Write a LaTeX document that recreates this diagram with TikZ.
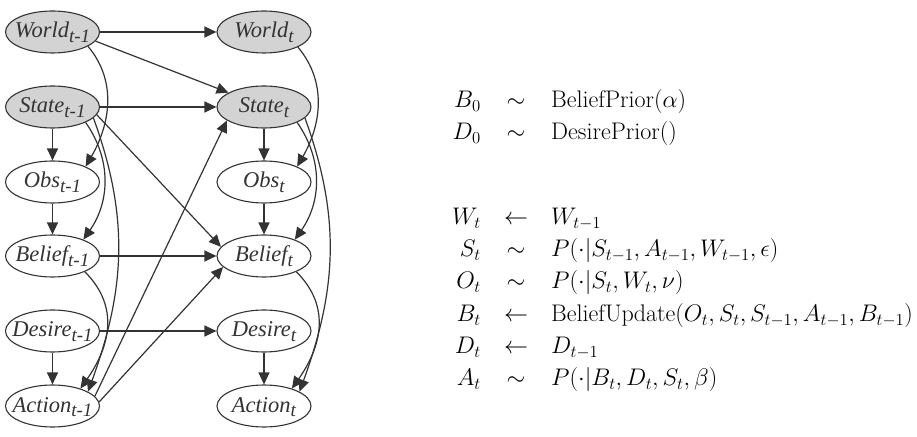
\RequirePackage{fix-cm}
\documentclass[tikz,border=0pt]{standalone}
\usepackage{fontspec}
\newfontfamily\nodefont{Liberation Serif}[ItalicFont={Liberation Serif Italic}]
\usetikzlibrary{shapes.geometric,arrows.meta}
\definecolor{edgec}{HTML}{333333}
\definecolor{nodegray}{HTML}{D3D3D3}
\newcommand\sbs[1]{\raisebox{-4.5pt}{\fontsize{19}{19}\selectfont #1}}
\newcommand\lab[1]{\makebox[0pt][c]{#1}}
\tikzset{
  bn/.style={ellipse, draw=edgec, text=edgec, line width=1.1pt, fill=white, minimum width=94pt, minimum height=42pt,
    inner sep=0pt, text height=12pt, text depth=0pt, font=\nodefont\itshape\fontsize{22.5}{22.5}\selectfont},
  gn/.style={bn, fill=nodegray},
  arr/.style={draw=edgec, line width=1.2pt, -{Triangle[length=12pt,width=11pt]}},
  eq/.style={inner sep=0pt, font=\fontsize{24}{28}\selectfont},
}
\newcommand\eqline[5]{%
  \node[eq, anchor=base east] (#1l) at (481,#2) {$#3$};
  \node[eq, anchor=base] (#1m) at (516,#2) {$#4$};
  \node[eq, anchor=base west] (#1r) at (551,#2) {$#5$};}
\begin{document}
\begin{tikzpicture}[x=1pt,y=1pt]
\path[use as bounding box] (0,0) rectangle (917,436);
% left column
\node[gn] (w1) at (52.5,404) {\lab{World\sbs{t-1}}};
\node[gn] (s1) at (52.5,329) {\lab{State\sbs{t-1}}};
\node[bn] (o1) at (52.5,254) {\lab{Obs\sbs{t-1}}};
\node[bn] (b1) at (52.5,180) {\lab{Belief\sbs{t-1}}};
\node[bn] (d1) at (52.5,105) {\lab{Desire\sbs{t-1}}};
\node[bn] (a1) at (52.5,30) {\lab{Action\sbs{t-1}}};
% right column
\node[gn] (w2) at (264,404) {\lab{World\sbs{t}}};
\node[gn] (s2) at (264,329) {\lab{State\sbs{t}}};
\node[bn] (o2) at (264,254) {\lab{Obs\sbs{t}}};
\node[bn] (b2) at (264,180) {\lab{Belief\sbs{t}}};
\node[bn] (d2) at (264,105) {\lab{Desire\sbs{t}}};
\node[bn] (a2) at (264,30) {\lab{Action\sbs{t}}};
% straight edges
\draw[arr] (w1) -- (w2);
\draw[arr] (w1.-12) -- (s2.158);
\draw[arr] (s1) -- (s2);
\draw[arr] (s1) -- (o1);
\draw[arr] (s1.-10) -- (b2.168);
\draw[arr] (o1) -- (b1);
\draw[arr] (b1) -- (b2);
\draw[arr] (d1) -- (d2);
\draw[arr] (d1) -- (a1);
\draw[arr] (a1.13) -- (s2.-160);
\draw[arr] (a1.5) -- (b2.-165);
\draw[arr] (s2) -- (o2);
\draw[arr] (o2) -- (b2);
\draw[arr] (d2) -- (a2);
% curved edges, left
\draw[arr] (w1.-22) to[out=-50,in=60] (o1.25);
\draw[arr] (s1.-25) to[out=-55,in=55] (b1.28);
\draw[arr] (s1.-15) to[out=-70,in=70] (a1.22);
\draw[arr] (b1.-26) to[out=-45,in=55,looseness=1.1] (a1.32);
% curved edges, right
\draw[arr] (w2.-24) to[out=-50,in=60] (o2.25);
\draw[arr] (s2.-25) to[out=-55,in=55] (b2.28);
\draw[arr] (s2.-15) to[out=-70,in=70] (a2.22);
\draw[arr] (b2.-26) to[out=-45,in=55,looseness=1.1] (a2.32);
% equations
\eqline{e1}{328}{B_0}{\sim}{\mathrm{BeliefPrior}(\alpha)}
\eqline{e2}{296}{D_0}{\sim}{\mathrm{DesirePrior}()}
\eqline{e3}{211}{W_t}{\leftarrow}{W_{t-1}}
\eqline{e4}{179}{S_t}{\sim}{P(\cdot|S_{t-1},A_{t-1},W_{t-1},\epsilon)}
\eqline{e5}{147}{O_t}{\sim}{P(\cdot|S_t,W_t,\nu)}
\eqline{e6}{114}{B_t}{\leftarrow}{\mathrm{BeliefUpdate}(O_t,S_t,S_{t-1},A_{t-1},B_{t-1})}
\eqline{e7}{82}{D_t}{\leftarrow}{D_{t-1}}
\eqline{e8}{50}{A_t}{\sim}{P(\cdot|B_t,D_t,S_t,\beta)}
\end{tikzpicture}
\end{document}
